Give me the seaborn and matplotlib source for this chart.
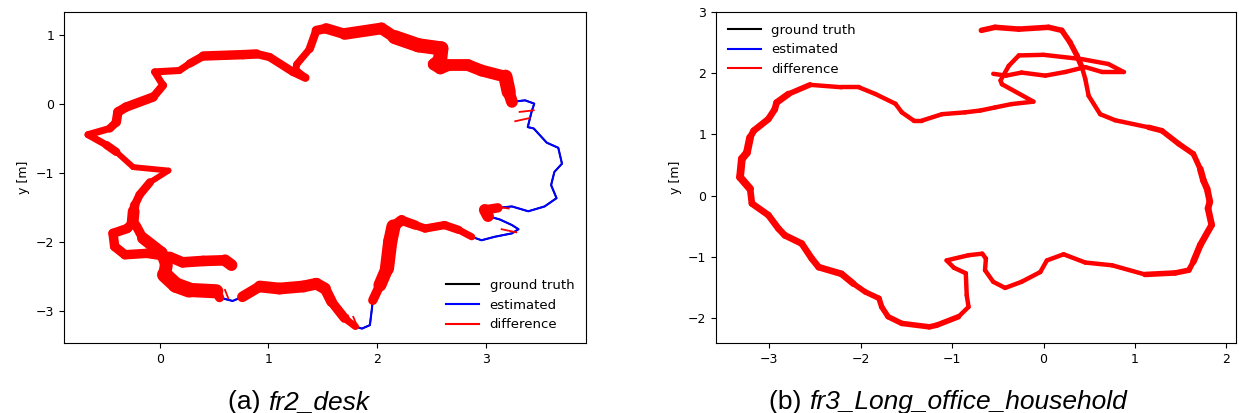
import matplotlib
matplotlib.use('Agg')
import matplotlib.pyplot as plt
from matplotlib.collections import LineCollection
from matplotlib.lines import Line2D
import numpy as np
import seaborn as sns

# (a) fr2_desk : estimated trajectory, width of the difference band (px)
desk_x = [0.66, 0.60, 0.40, 0.21, 0.09, -0.12, -0.32, -0.415, -0.43, -0.30,
          -0.25, -0.24, -0.23, -0.185, -0.09, 0.08, -0.245, -0.40, -0.49, -0.66,
          -0.46, -0.40, -0.385, -0.31, -0.06, 0.03, -0.047, 0.18, 0.275, 0.40,
          0.765, 0.89, 1.01, 1.225, 1.34, 1.25, 1.26, 1.38, 1.44, 1.53,
          1.70, 2.04, 2.16, 2.38, 2.59, 2.58, 2.52, 2.58, 2.65, 2.84,
          2.96, 3.18, 3.21, 3.24, 3.36, 3.445, 3.42, 3.385, 3.44, 3.56,
          3.666, 3.70, 3.63, 3.60, 3.65, 3.54, 3.39, 3.24, 3.11, 2.99,
          3.02, 3.13, 3.24, 3.30, 3.24, 3.08, 2.96, 2.87, 2.75, 2.62,
          2.44, 2.35, 2.225, 2.15, 2.12, 2.09, 2.025, 1.96, 1.95, 1.933,
          1.86, 1.80, 1.70, 1.58, 1.52, 1.44, 1.32, 1.10, 0.92, 0.76,
          0.67, 0.55, 0.52, 0.27, 0.148, 0.045, 0.06, 0.017, -0.155, -0.22]
desk_y = [-2.33, -2.26, -2.27, -2.29, -2.21, -2.16, -2.18, -2.06, -1.87, -1.80,
          -1.72, -1.55, -1.46, -1.31, -1.13, -0.96, -0.91, -0.69, -0.59, -0.44,
          -0.35, -0.26, -0.11, -0.04, 0.106, 0.275, 0.47, 0.49, 0.59, 0.70,
          0.72, 0.73, 0.685, 0.47, 0.385, 0.50, 0.58, 0.805, 1.07, 1.10,
          1.02, 1.10, 0.975, 0.855, 0.81, 0.66, 0.58, 0.52, 0.565, 0.565,
          0.49, 0.40, 0.18, 0.035, 0.058, 0.01, -0.11, -0.33, -0.35, -0.556,
          -0.63, -0.86, -0.98, -1.17, -1.36, -1.48, -1.55, -1.48, -1.50, -1.53,
          -1.62, -1.67, -1.75, -1.81, -1.87, -1.92, -1.97, -1.92, -1.82, -1.75,
          -1.80, -1.75, -1.68, -1.77, -1.99, -2.38, -2.62, -2.84, -2.98, -3.20,
          -3.25, -3.22, -3.10, -2.86, -2.67, -2.60, -2.64, -2.67, -2.64, -2.79,
          -2.85, -2.80, -2.71, -2.69, -2.62, -2.47, -2.33, -2.15, -1.94, -1.75]
desk_err = [10, 10, 9, 9, 9, 8, 8, 8, 8, 8,
            10, 10, 8, 7, 7, 5, 5, 7, 7, 6,
            7, 8, 8, 8, 8, 7, 6, 6, 7, 8,
            8, 8, 7, 7, 7, 6, 6, 7, 8, 9,
            10, 10, 12, 12, 12, 12, 10, 10, 10, 10,
            10, 12, 14, 10, 0, 0, 0, 0, 0, 0,
            0, 0, 0, 0, 0, 0, 0, 0, 8, 10,
            10, 0, 0, 0, 0, 0, 0, 6, 7, 7,
            7, 8, 9, 12, 13, 12, 11, 8, 0, 0,
            0, 6, 8, 9, 10, 10, 10, 10, 10, 9,
            0, 8, 12, 13, 13, 13, 11, 10, 10, 8]
# isolated difference segments (ground truth -> estimate)
desk_sp_x0 = [3.31, 3.27, 3.145, 3.08, 1.68, 1.73, 1.78, 0.54, 0.60]
desk_sp_y0 = [-0.11, -0.245, -1.81, -1.48, -3.06, -3.06, -3.08, -2.69, -2.69]
desk_sp_x1 = [3.44, 3.40, 3.28, 3.21, 1.72, 1.77, 1.82, 0.57, 0.63]
desk_sp_y1 = [-0.087, -0.20, -1.855, -1.51, -3.17, -3.20, -3.23, -2.79, -2.81]

# (b) fr3_Long_office_household
office_x = [-0.68, -0.53, -0.27, 0.055, 0.20, 0.29, 0.365, 0.42, 0.457, 0.494,
            0.62, 0.785, 1.15, 1.295, 1.48, 1.64, 1.715, 1.75, 1.79, 1.82,
            1.80, 1.84, 1.715, 1.64, 1.59, 1.44, 1.11, 0.75, 0.457, 0.22,
            0.037, -0.035, -0.24, -0.42, -0.55, -0.64, -0.63, -0.67, -0.82, -1.06,
            -0.98, -0.85, -0.84, -0.82, -0.93, -1.17, -1.25, -1.55, -1.70, -1.77,
            -1.80, -1.95, -2.08, -2.21, -2.46, -2.535, -2.645, -2.83, -2.90, -3.01,
            -3.19, -3.21, -3.32, -3.30, -3.245, -3.21, -3.17, -3.01, -2.94, -2.92,
            -2.79, -2.555, -2.21, -2.02, -1.84, -1.62, -1.55, -1.42, -1.33, -1.11,
            -0.857, -0.69, -0.53, -0.35, -0.11, -0.455, -0.47, -0.38, -0.27, 0.0,
            0.42, 0.71, 0.876, 0.64, 0.457, 0.24, 0.02, -0.24, -0.41, -0.55]
office_y = [2.70, 2.75, 2.72, 2.75, 2.70, 2.505, 2.29, 2.10, 1.905, 1.63,
            1.33, 1.23, 1.115, 1.06, 0.845, 0.68, 0.435, 0.245, 0.11, -0.10,
            -0.21, -0.48, -0.81, -1.08, -1.22, -1.265, -1.29, -1.14, -1.095, -0.96,
            -1.06, -1.25, -1.41, -1.51, -1.41, -1.22, -1.03, -0.95, -0.975, -1.06,
            -1.18, -1.27, -1.63, -1.82, -1.98, -2.12, -2.146, -2.09, -1.98, -1.82,
            -1.68, -1.575, -1.44, -1.28, -1.17, -1.03, -0.785, -0.65, -0.54, -0.32,
            -0.13, 0.11, 0.30, 0.60, 0.70, 0.95, 1.06, 1.25, 1.41, 1.52,
            1.66, 1.81, 1.77, 1.77, 1.66, 1.50, 1.36, 1.225, 1.225, 1.33,
            1.36, 1.39, 1.44, 1.495, 1.535, 1.82, 1.88, 2.12, 2.29, 2.30,
            2.23, 2.15, 2.02, 2.02, 2.10, 2.02, 1.96, 2.01, 1.96, 1.99]
office_err = [5, 5, 5, 5, 5, 5, 5, 5, 4, 4,
              4, 4, 5, 5, 5, 5, 6, 6, 6, 6,
              6, 6, 6, 7, 5, 5, 5, 4, 4, 4,
              4, 4, 4, 4, 4, 4, 4, 4, 4, 4,
              4, 4, 4, 4, 5, 5, 5, 5, 5, 5,
              5, 5, 6, 6, 6, 6, 6, 6, 6, 6,
              6, 7, 7, 7, 7, 7, 6, 6, 6, 6,
              6, 5, 4, 4, 4, 4, 4, 4, 4, 4,
              4, 4, 4, 4, 4, 4, 4, 4, 4, 4,
              4, 4, 5, 4, 4, 4, 4, 4, 4, 4]

labels = ['ground truth', 'estimated', 'difference']
captions = [('(a) ', 'fr2_desk'), ('(b) ', 'fr3_Long_office_household')]

fig = plt.figure(figsize=(12.39, 4.13), dpi=100)
ax1 = fig.add_axes([64 / 1239, 70 / 413, 522 / 1239, 331 / 413])
ax2 = fig.add_axes([716 / 1239, 70 / 413, 520 / 1239, 331 / 413])


def draw(ax, xs, ys, err, scale):
    # ground truth and estimate lie on top of each other at this scale
    sns.lineplot(x=xs, y=ys, sort=False, estimator=None, color='black', lw=1.2, ax=ax)
    sns.lineplot(x=xs, y=ys, sort=False, estimator=None, color='blue', lw=1.5, ax=ax)
    segs, widths = [], []
    for i in range(len(xs) - 1):
        w = min(err[i], err[i + 1])
        if w > 0:
            segs.append([(xs[i], ys[i]), (xs[i + 1], ys[i + 1])])
            widths.append(w * scale)
    lc = LineCollection(segs, colors='red', linewidths=widths,
                        capstyle='round', joinstyle='round', zorder=3)
    ax.add_collection(lc)


draw(ax1, desk_x, desk_y, desk_err, 0.85)
for x0, y0, x1, y1 in zip(desk_sp_x0, desk_sp_y0, desk_sp_x1, desk_sp_y1):
    ax1.plot([x0, x1], [y0, y1], color='red', lw=1.3, zorder=3)
draw(ax2, office_x, office_y, office_err, 0.8)

ax1.set_xlim(-0.881, 3.921)
ax1.set_ylim(-3.459, 1.338)
ax1.set_xticks([0, 1, 2, 3])
ax1.set_yticks([-3, -2, -1, 0, 1])
ax2.set_xlim(-3.583, 2.106)
ax2.set_ylim(-2.41, 2.985)
ax2.set_xticks([-3, -2, -1, 0, 1, 2])
ax2.set_yticks([-2, -1, 0, 1, 2, 3])

handles = [Line2D([], [], color=c, lw=1.5) for c in ['black', 'blue', 'red']]
for ax, loc in [(ax1, 'lower right'), (ax2, 'upper left')]:
    ax.tick_params(labelsize=9)
    ax.set_ylabel('y [m]', fontsize=9)
    ax.set_xlabel('')
    ax.legend(handles, labels, loc=loc, frameon=False, fontsize=9.5,
              handlelength=2.5)

for (pre, name), xc in zip(captions, [268 / 1239, 809 / 1239]):
    fig.text(xc, 4 / 413, pre, ha='right', va='baseline', fontsize=19,
             family='Liberation Sans')
    fig.text(xc, 4 / 413, name, ha='left', va='baseline', fontsize=19,
             family='Liberation Sans', style='italic')

plt.savefig('out.png', dpi=100)
